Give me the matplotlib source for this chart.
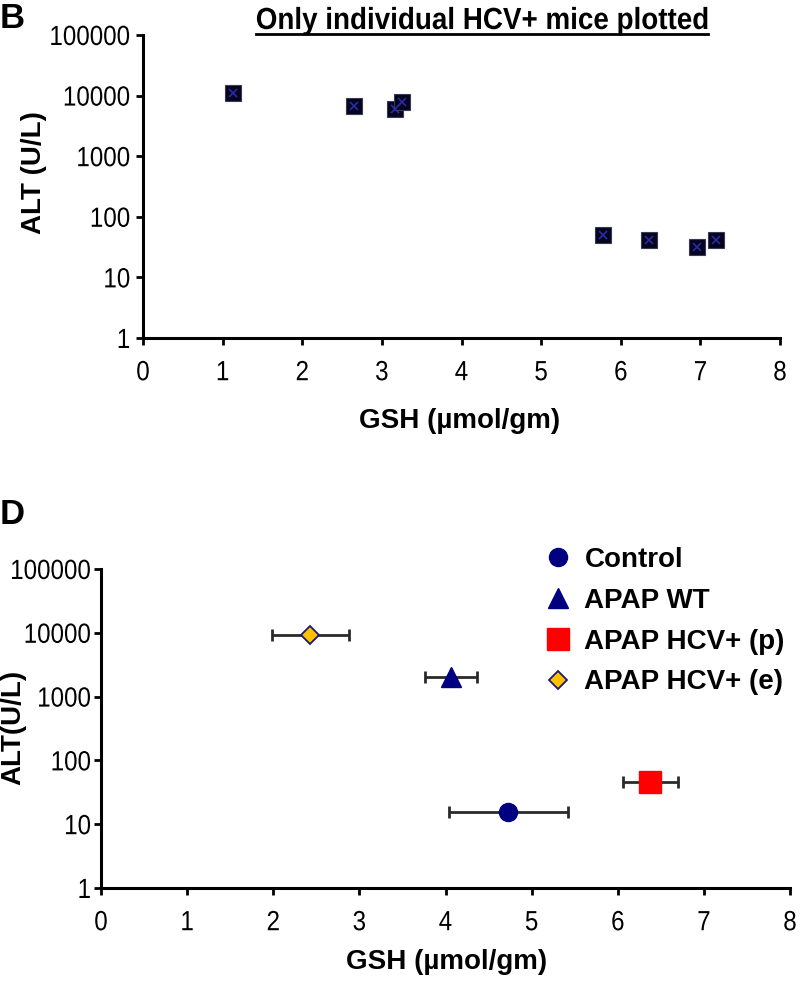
import matplotlib
matplotlib.use("Agg")
import matplotlib.pyplot as plt
from matplotlib.lines import Line2D
from matplotlib.ticker import FixedLocator, FixedFormatter, NullLocator
from matplotlib.patheffects import AbstractPathEffect
from matplotlib.transforms import Affine2D

# ---------------- data ----------------
# Panel B: individual HCV+ mice
b_gsh = [1.13, 2.65, 3.17, 3.25, 5.78, 6.35, 6.96, 7.19]
b_alt = [11000, 6800, 6000, 7900, 50, 41, 32, 41]

# Panel D: group means with horizontal SE
d_labels = ["Control", "APAP WT", "APAP HCV+ (p)", "APAP HCV+ (e)"]
d_gsh = [4.73, 4.06, 6.38, 2.43]
d_gsh_err = [0.69, 0.30, 0.32, 0.45]
d_alt = [15.5, 2050, 46, 9300]

x_ticks = [0, 1, 2, 3, 4, 5, 6, 7, 8]
y_ticks = [1, 10, 100, 1000, 10000, 100000]
y_ticklabels = ["1", "10", "100", "1000", "10000", "100000"]

# ---------------- style ----------------
plt.rcParams['font.family'] = ['Liberation Sans', 'DejaVu Sans']


class Squeeze(AbstractPathEffect):
    """Horizontally condense glyphs about an anchor (left/center/right)."""

    def __init__(self, sx=0.88, anchor='center'):
        super().__init__()
        self.sx = sx
        self.anchor = anchor

    def draw_path(self, renderer, gc, tpath, affine, rgbFace=None):
        ext = tpath.get_extents()
        if self.anchor == 'right':
            ax_ = ext.x1
        elif self.anchor == 'left':
            ax_ = ext.x0
        else:
            ax_ = 0.5 * (ext.x0 + ext.x1)
        pre = Affine2D().translate(-ax_, 0).scale(self.sx, 1).translate(ax_, 0)
        renderer.draw_path(gc, tpath, pre + affine, rgbFace)


W, H = 800, 988
fig = plt.figure(figsize=(W / 100, H / 100), dpi=100)
TICK_SX = 0.87


def style_axes(ax, ypad):
    ax.set_yscale('log')
    ax.set_xlim(0, 8)
    ax.set_ylim(1, 100000)
    for s in ('top', 'right'):
        ax.spines[s].set_visible(False)
    for s in ('left', 'bottom'):
        ax.spines[s].set_linewidth(2.2)
        ax.spines[s].set_color('black')
    ax.xaxis.set_major_locator(FixedLocator(x_ticks))
    ax.yaxis.set_major_locator(FixedLocator(y_ticks))
    ax.yaxis.set_major_formatter(FixedFormatter(y_ticklabels))
    ax.yaxis.set_minor_locator(NullLocator())
    ax.tick_params(axis='both', which='major', direction='out', length=5,
                   width=2, labelsize=20)
    ax.tick_params(axis='x', pad=11)
    ax.tick_params(axis='y', pad=ypad)
    for lab in ax.get_xticklabels():
        lab.set_path_effects([Squeeze(TICK_SX, 'center')])
    for lab in ax.get_yticklabels():
        lab.set_path_effects([Squeeze(TICK_SX, 'right')])
    ax.patch.set_alpha(0)


# ---------------- panel B ----------------
bx0, bx1, by0, by1 = 143, 780, 35, 338
axB = fig.add_axes([bx0 / W, 1 - by1 / H, (bx1 - bx0) / W, (by1 - by0) / H])
style_axes(axB, ypad=4)
axB.plot(b_gsh, b_alt, linestyle='none', marker='s', markersize=11,
         markerfacecolor='#05051f', markeredgecolor='#3a3a55', markeredgewidth=0.8,
         clip_on=False, zorder=3)
axB.plot(b_gsh, b_alt, linestyle='none', marker='x', markersize=6,
         markeredgecolor='#2a2aa8', markeredgewidth=1.2, clip_on=False, zorder=4)
axB.set_xlabel('GSH (µmol/gm)', fontsize=20, fontweight='bold')
axB.set_ylabel('ALT (U/L)', fontsize=20, fontweight='bold')
axB.xaxis.set_label_coords((460 - bx0) / (bx1 - bx0), (by1 - 408) / (by1 - by0))
axB.yaxis.set_label_coords((47 - bx0) / (bx1 - bx0), (by1 - 173) / (by1 - by0))

fig.text(0 / W, 1 - 28 / H, 'B', fontsize=25, fontweight='bold', va='baseline', ha='left')
TITLE_SX = 0.91
title = fig.text(482 / W, 1 - 29 / H, 'Only individual HCV+ mice plotted',
                 fontsize=22, fontweight='bold', ha='center', va='baseline',
                 path_effects=[Squeeze(TITLE_SX, 'center')])

# ---------------- panel D ----------------
dx0, dx1, dy0, dy1 = 101, 790, 569, 888
axD = fig.add_axes([dx0 / W, 1 - dy1 / H, (dx1 - dx0) / W, (dy1 - dy0) / H])
style_axes(axD, ypad=2)

styles = [
    dict(marker='o', markersize=13, markerfacecolor='#000080', markeredgecolor='#000080'),
    dict(marker='^', markersize=14, markerfacecolor='#000080', markeredgecolor='#000080'),
    dict(marker='s', markersize=16, markerfacecolor='#ff0000', markeredgecolor='#ff0000'),
    dict(marker='D', markersize=9, markerfacecolor='#ffc000', markeredgecolor='#1a1a6e',
         markeredgewidth=1.3),
]
handles = []
for i in range(len(d_labels)):
    axD.errorbar([d_gsh[i]], [d_alt[i]], xerr=[d_gsh_err[i]], fmt='none',
                 ecolor='#2a2a2a', elinewidth=2, capsize=4.5, capthick=2, zorder=2)
    h, = axD.plot([d_gsh[i]], [d_alt[i]], linestyle='none', zorder=3,
                  label=d_labels[i], **styles[i])
    handles.append(h)

axD.set_xlabel('GSH (µmol/gm)', fontsize=20, fontweight='bold')
axD.set_ylabel('ALT(U/L)', fontsize=20, fontweight='bold')
axD.xaxis.set_label_coords((447 - dx0) / (dx1 - dx0), (dy1 - 949) / (dy1 - dy0))
axD.yaxis.set_label_coords((26 - dx0) / (dx1 - dx0), (dy1 - 727) / (dy1 - dy0))

leg = fig.legend(handles=handles, loc='upper left',
                 bbox_to_anchor=(530 / W, 1 - 536 / H), frameon=False,
                 prop=dict(size=20, weight='bold'), handletextpad=0.36,
                 labelspacing=0.53, handlelength=1.2, borderaxespad=0)

fig.text(0 / W, 1 - 524 / H, 'D', fontsize=25, fontweight='bold', va='baseline', ha='left')

# underline for title (account for horizontal squeeze)
fig.canvas.draw()
bb = title.get_window_extent(renderer=fig.canvas.get_renderer())
cx = 0.5 * (bb.x0 + bb.x1)
half = 0.5 * (bb.x1 - bb.x0) * TITLE_SX
uy = 1 - 34 / H
fig.add_artist(Line2D([(cx - half) / W, (cx + half) / W], [uy, uy],
                      transform=fig.transFigure, color='black', linewidth=2))

fig.savefig('out.png', dpi=100)
